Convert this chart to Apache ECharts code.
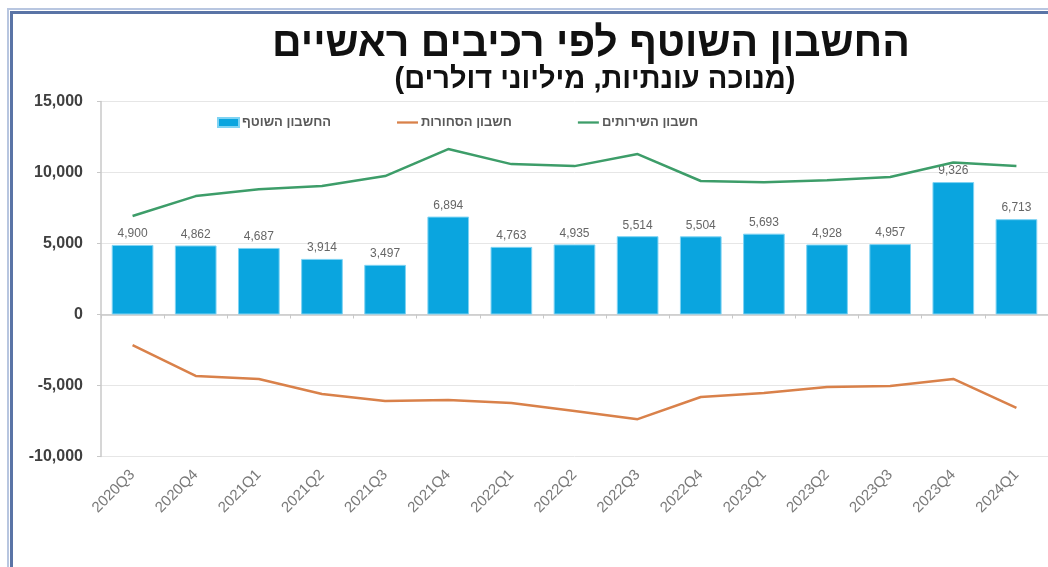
<!DOCTYPE html>
<html>
<head>
<meta charset="utf-8">
<script src="https://cdn.jsdelivr.net/npm/echarts@6/dist/echarts.min.js"></script>
<style>
html,body{margin:0;padding:0;background:#fff;}
#c{width:1048px;height:567px;}
</style>
</head>
<body>
<div id="c"></div>
<script>
const categories = ['2020Q3','2020Q4','2021Q1','2021Q2','2021Q3','2021Q4','2022Q1','2022Q2','2022Q3','2022Q4','2023Q1','2023Q2','2023Q3','2023Q4','2024Q1'];
const currentAccount = [4900, 4862, 4687, 3914, 3497, 6894, 4763, 4935, 5514, 5504, 5693, 4928, 4957, 9326, 6713];
const goodsAccount = [-2150, -4330, -4540, -5600, -6090, -6020, -6230, -6800, -7370, -5810, -5530, -5110, -5040, -4540, -6580];
const servicesAccount = [6940, 8340, 8820, 9050, 9750, 11650, 10590, 10450, 11300, 9400, 9320, 9460, 9680, 10700, 10460];
const yTicks = [-10000, -5000, 0, 5000, 10000, 15000];
const seriesNames = ['החשבון השוטף', 'חשבון הסחורות', 'חשבון השירותים'];
const titleText = 'החשבון השוטף לפי רכיבים ראשיים';
const subtitleText = '(מנוכה עונתיות, מיליוני דולרים)';

const FONT = 'Arial, "Liberation Sans", "DejaVu Sans", sans-serif';
const fmt = v => v.toLocaleString('en-US');
const LINE_ICON = 'path://M0,0L0,0M22,9L22,9M0,3.3L22,3.3L22,5.7L0,5.7Z';

const chart = echarts.init(document.getElementById('c'), null, {renderer: 'canvas'});
chart.setOption({
  animation: false,
  backgroundColor: '#fff',
  textStyle: {fontFamily: FONT},
  graphic: [
    {type: 'rect', shape: {x: 11.5, y: 12.5, width: 1200, height: 700}, style: {fill: 'none', stroke: '#5a74a6', lineWidth: 3}},
    {type: 'rect', shape: {x: 8, y: 9, width: 1200, height: 700}, style: {fill: 'none', stroke: '#b8c6e0', lineWidth: 2}},
    {type: 'text', x: 591, y: 45, style: {text: titleText, fill: '#111', font: 'bold 41px ' + FONT, textAlign: 'center', textVerticalAlign: 'middle'}},
    {type: 'text', x: 595, y: 80, style: {text: subtitleText, fill: '#111', font: 'bold 29px ' + FONT, textAlign: 'center', textVerticalAlign: 'middle'}}
  ],
  legend: {
    left: 212, top: 111,
    itemWidth: 21, itemHeight: 9, itemGap: 66,
    textStyle: {color: '#595959', fontSize: 13, fontWeight: 'bold', fontFamily: FONT, padding: [0, 0, 0, -2]},
    data: [{name: seriesNames[0], icon: 'rect'}, {name: seriesNames[1], icon: LINE_ICON}, {name: seriesNames[2], icon: LINE_ICON}]
  },
  grid: {left: 101, top: 101.5, width: 954, height: 355},
  xAxis: [
    {type: 'category', data: categories, position: 'bottom',
     axisLine: {onZero: true, lineStyle: {color: '#c8c8c8', width: 1.5}},
     axisTick: {show: true, length: 4, lineStyle: {color: '#c8c8c8'}},
     axisLabel: {show: false}},
    {type: 'category', data: categories, position: 'bottom', gridIndex: 0,
     axisLine: {show: false, onZero: false}, axisTick: {show: false},
     axisLabel: {rotate: 45, color: '#7a7a7a', fontSize: 15, margin: 16, interval: 0, fontFamily: FONT}}
  ],
  yAxis: {
    type: 'value', min: -10000, max: 15000, interval: 5000,
    axisLine: {show: true, lineStyle: {color: '#c8c8c8', width: 1.5}},
    axisTick: {show: true, length: 4, lineStyle: {color: '#c8c8c8'}},
    axisLabel: {color: '#404040', fontSize: 16, fontWeight: 'bold', margin: 18, formatter: v => fmt(v), fontFamily: FONT},
    splitLine: {lineStyle: {color: '#e6e6e6'}}
  },
  series: [
    {name: seriesNames[0], type: 'bar', xAxisIndex: 0, data: currentAccount, barWidth: '66%',
     itemStyle: {color: '#0aa5df', borderColor: '#7fd3f3', borderWidth: 1},
     label: {show: true, position: 'top', distance: 5, color: '#666', fontSize: 12, formatter: p => fmt(p.value), fontFamily: FONT},
     z: 2},
    {name: seriesNames[1], type: 'line', xAxisIndex: 0, data: goodsAccount, symbol: 'none',
     lineStyle: {color: '#d9814a', width: 2.5}, itemStyle: {color: '#d9814a'}, z: 3},
    {name: seriesNames[2], type: 'line', xAxisIndex: 0, data: servicesAccount, symbol: 'none',
     lineStyle: {color: '#3d9d69', width: 2.5}, itemStyle: {color: '#3d9d69'}, z: 3}
  ]
});
</script>
</body>
</html>
